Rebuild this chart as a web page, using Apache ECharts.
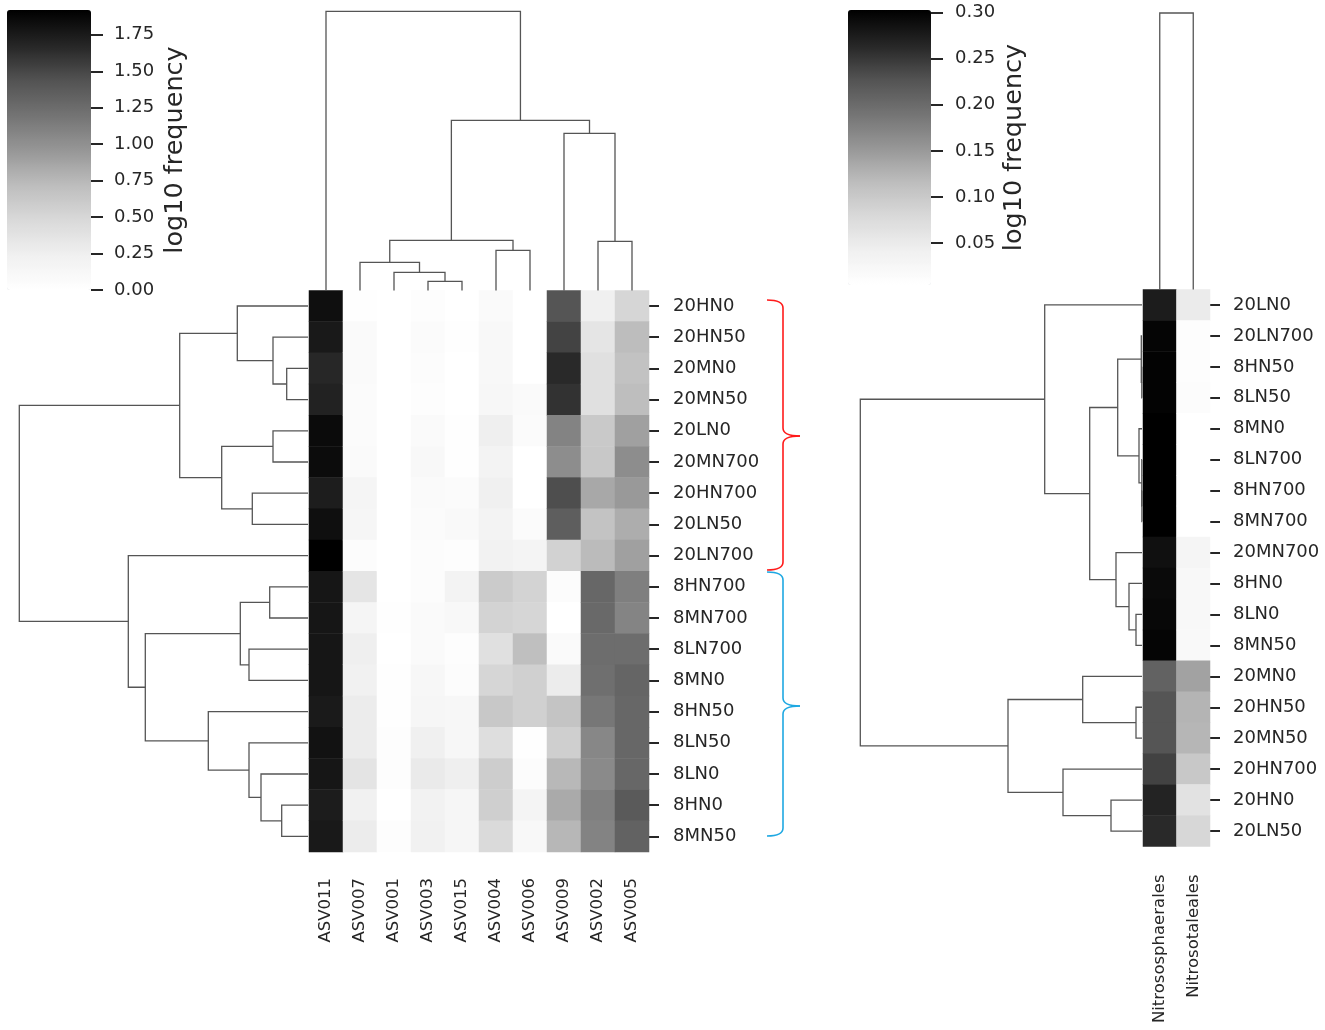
<!DOCTYPE html>
<html><head><meta charset="utf-8">
<script src="https://cdn.jsdelivr.net/npm/echarts@6/dist/echarts.min.js"></script>
<style>html,body{margin:0;padding:0;background:#fff}#c{width:1325px;height:1030px}</style>
</head><body><div id="c"></div>
<script>
// ---------- data ----------
const asvCols = ['ASV011','ASV007','ASV001','ASV003','ASV015','ASV004','ASV006','ASV009','ASV002','ASV005'];
const leftRows = ['20HN0','20HN50','20MN0','20MN50','20LN0','20MN700','20HN700','20LN50','20LN700',
                  '8HN700','8MN700','8LN700','8MN0','8HN50','8LN50','8LN0','8HN0','8MN50'];
const asv011 = [1.82,1.76,1.67,1.70,1.85,1.84,1.73,1.82,1.92,1.78,1.78,1.78,1.78,1.75,1.80,1.78,1.74,1.76];
const asv007 = [0.02,0.08,0.08,0.06,0.06,0.08,0.16,0.14,0.05,0.36,0.16,0.25,0.22,0.28,0.28,0.37,0.22,0.28];
const asv001 = [0,0,0,0,0,0,0,0,0,0,0.02,0,0.02,0.02,0.03,0.03,0,0.03];
const asv003 = [0.03,0.06,0.05,0.03,0.08,0.11,0.08,0.06,0.05,0.05,0.08,0.08,0.13,0.14,0.24,0.30,0.21,0.22];
const asv015 = [0,0.02,0,0,0.02,0.02,0.06,0.10,0.03,0.19,0.11,0.03,0.05,0.13,0.13,0.25,0.14,0.14];
const asv004 = [0.08,0.11,0.11,0.13,0.25,0.19,0.24,0.19,0.21,0.60,0.53,0.41,0.51,0.63,0.43,0.58,0.57,0.47];
const asv006 = [0,0,0,0.08,0.06,0,0,0.06,0.18,0.53,0.51,0.70,0.56,0.56,0.02,0.05,0.18,0.11];
const asv009 = [1.42,1.52,1.66,1.61,1.09,1.02,1.46,1.35,0.54,0.05,0,0.08,0.28,0.66,0.57,0.75,0.84,0.76];
const asv002 = [0.24,0.36,0.41,0.41,0.62,0.63,0.85,0.67,0.73,1.29,1.27,1.24,1.23,1.17,1.06,1.04,1.11,1.09];
const asv005 = [0.51,0.72,0.68,0.71,0.90,1.02,0.94,0.82,0.90,1.12,1.08,1.24,1.30,1.29,1.29,1.29,1.38,1.32];

const orderCols = ['Nitrososphaerales','Nitrosotaleales'];
const rightRows = ['20LN0','20LN700','8HN50','8LN50','8MN0','8LN700','8HN700','8MN700','20MN700',
                   '8HN0','8LN0','8MN50','20MN0','20HN50','20MN50','20HN700','20HN0','20LN50'];
const nitrososphaerales = [0.275,0.298,0.300,0.300,0.303,0.303,0.303,0.303,0.287,0.293,0.295,0.298,0.210,0.225,0.225,0.242,0.268,0.262];
const nitrosotaleales   = [0.050,0.009,0.009,0.012,0.0043,0.0043,0.0043,0.0043,0.029,0.022,0.022,0.019,0.142,0.125,0.123,0.102,0.064,0.082];

// linkage: [childA, childB, distance]; ids < n are leaves (display order), n+k is k-th merge
const leftColLinkage = [[3,4,9],[2,10,18],[1,11,28],[5,6,40],[12,13,50],[8,9,49],[7,15,157],[14,16,170],[0,17,279]];
const leftRowLinkage = [[2,3,21.3],[1,18,35],[0,19,70.7],[4,5,35],[6,7,55.7],[21,22,86.3],[20,23,128.3],
  [9,10,38.3],[11,12,59],[25,26,67.7],[16,17,26.3],[15,28,47],[14,29,59],[13,30,99.7],[27,31,162.7],[8,32,179.7],[24,33,288.7]];
const rightColLinkage = [[0,1,276.5]];
const rightRowLinkage = [[2,3,0.2],[1,18,0.7],[6,7,0.1],[5,20,0.2],[4,21,3],[19,22,24.3],
  [10,11,6],[9,24,13],[8,25,26],[23,26,52.3],[0,27,97.3],[13,14,6],[12,29,59.3],[16,17,31],[15,31,79],[30,32,134],[28,33,281.7]];

// colour bar ticks: [first, last, step]
const leftBarTicks = [0, 1.75, 0.25];
const rightBarTicks = [0.05, 0.30, 0.05];
const leftRange = [0, 1.92];
const rightRange = [0.0043, 0.303];
const barTitle = 'log10 frequency';

// ---------- build ----------
const greys = ['#ffffff','#f0f0f0','#d9d9d9','#bdbdbd','#969696','#737373','#525252','#252525','#000000'];
const TXT = '#262626', FONT = 'DejaVu Sans';
const leftCols = [asv011,asv007,asv001,asv003,asv015,asv004,asv006,asv009,asv002,asv005];
const leftData = [];
leftCols.forEach((col, c) => col.forEach((v, r) => leftData.push([c, r, v])));
const rightData = [];
[nitrososphaerales, nitrosotaleales].forEach((col, c) => col.forEach((v, r) => rightData.push([c, r, v])));

function dendro(n, linkage, horizontal) {
  const pos = [], hgt = [];
  for (let i = 0; i < n; i++) { pos.push(i + 0.5); hgt.push(0); }
  const segs = [];
  linkage.forEach(([a, b, h]) => {
    let pts = [[pos[a], hgt[a]], [pos[a], h], [pos[b], h], [pos[b], hgt[b]]];
    if (horizontal) pts = pts.map(p => [p[1], p[0]]);
    segs.push({ coords: pts });
    pos.push((pos[a] + pos[b]) / 2); hgt.push(h);
  });
  return segs;
}
const dLine = { color: '#555', width: 1.3, opacity: 1 };
function lineSeries(xi, data) {
  return { type: 'lines', coordinateSystem: 'cartesian2d', xAxisIndex: xi, yAxisIndex: xi, polyline: true,
           silent: true, data: data, lineStyle: dLine, z: 3 };
}
const hidden = (min, max, inverse) => ({ type: 'value', show: false, min, max, inverse: !!inverse,
  axisLine: { onZero: false } });
const dummyCat = () => ({ type: 'category', show: false, data: [''], axisLine: { onZero: false } });
const hLbl = { color: TXT, fontFamily: FONT, fontSize: 18 };
const vLbl = { color: TXT, fontFamily: FONT, fontSize: 16.5 };

function heatY(rows, margin) {
  return { type: 'category', data: rows, inverse: true, position: 'right',
    axisLine: { show: false, onZero: false }, axisTick: { show: true, alignWithLabel: true, length: 10, lineStyle: { color: TXT, width: 2 } },
    axisLabel: Object.assign({ margin: margin }, hLbl), splitLine: { show: false } };
}
function heatX(cols, margin) {
  return { type: 'category', data: cols, position: 'bottom',
    axisLine: { show: false, onZero: false }, axisTick: { show: false },
    axisLabel: Object.assign({ margin: margin, rotate: 90 }, vLbl), splitLine: { show: false } };
}
function tickAxis(t, margin) {
  return { type: 'value', position: 'right', min: t[0], max: t[1], interval: t[2],
    axisLine: { show: false, onZero: false }, splitLine: { show: false },
    axisTick: { show: true, inside: false, length: 12, lineStyle: { color: TXT, width: 2 } },
    axisLabel: Object.assign({ margin: margin, formatter: v => v.toFixed(2) }, hLbl), z: 10 };
}
function nameAxis(range, gap) {
  return { type: 'value', position: 'right', min: range[0], max: range[1],
    axisLine: { show: false, onZero: false }, splitLine: { show: false }, axisTick: { show: false }, axisLabel: { show: false },
    name: barTitle, nameLocation: 'middle', nameRotate: 90, nameGap: gap,
    nameTextStyle: { color: TXT, fontFamily: FONT, fontSize: 25.5 } };
}

const G = (left, top, width, height) => ({ left, top, width, height, containLabel: false });
// pixel span of a colour bar sub-range (tick axis sits over part of the bar)
function sub(barTop, barH, range, lo, hi) {
  const f = v => barTop + barH * (range[1] - v) / (range[1] - range[0]);
  return [f(hi), f(lo) - f(hi)];
}
const lSub = sub(10, 280, leftRange, leftBarTicks[0], leftBarTicks[1]);
const rSub = sub(10, 275, rightRange, rightBarTicks[0], rightBarTicks[1]);

// curly brace pieces (annotation)
function brace(x0, xm, xt, y0, yt, y1, color) {
  const st = { stroke: color, fill: null, lineWidth: 1.6 };
  const r = 8;
  return [
    { type: 'bezierCurve', shape: { x1: x0, y1: y0, cpx1: xm, cpy1: y0, x2: xm, y2: y0 + r }, style: st },
    { type: 'line', shape: { x1: xm, y1: y0 + r, x2: xm, y2: yt - r }, style: st },
    { type: 'bezierCurve', shape: { x1: xm, y1: yt - r, cpx1: xm, cpy1: yt, x2: xt, y2: yt }, style: st },
    { type: 'bezierCurve', shape: { x1: xt, y1: yt, cpx1: xm, cpy1: yt, x2: xm, y2: yt + r }, style: st },
    { type: 'line', shape: { x1: xm, y1: yt + r, x2: xm, y2: y1 - r }, style: st },
    { type: 'bezierCurve', shape: { x1: xm, y1: y1 - r, cpx1: xm, cpy1: y1, x2: x0, y2: y1 }, style: st }
  ];
}

const option = {
  backgroundColor: '#ffffff',
  animation: false,
  grid: [
    G(309, 290.4, 340, 561.6),   // 0 left heatmap
    G(309, 0, 340, 290.4),       // 1 left column dendrogram
    G(0, 290.4, 308, 561.6),     // 2 left row dendrogram
    G(7, lSub[0], 84, lSub[1]),  // 3 left colorbar ticks
    G(1143, 289.5, 67, 557),     // 4 right heatmap
    G(1143, 0, 67, 289.5),       // 5 right column dendrogram
    G(852, 289.5, 290, 557),     // 6 right row dendrogram
    G(848, rSub[0], 83, rSub[1]),// 7 right colorbar ticks
    G(7, 10, 84, 280),           // 8 left colorbar title
    G(848, 10, 83, 275)          // 9 right colorbar title
  ],
  xAxis: [
    Object.assign(heatX(asvCols, 26), { gridIndex: 0 }),
    Object.assign(hidden(0, asvCols.length), { gridIndex: 1 }),
    Object.assign(hidden(0, 308, true), { gridIndex: 2 }),
    Object.assign(dummyCat(), { gridIndex: 3 }),
    Object.assign(heatX(orderCols, 28), { gridIndex: 4 }),
    Object.assign(hidden(0, orderCols.length), { gridIndex: 5 }),
    Object.assign(hidden(0, 290, true), { gridIndex: 6 }),
    Object.assign(dummyCat(), { gridIndex: 7 }),
    Object.assign(dummyCat(), { gridIndex: 8 }),
    Object.assign(dummyCat(), { gridIndex: 9 })
  ],
  yAxis: [
    Object.assign(heatY(leftRows, 24), { gridIndex: 0 }),
    Object.assign(hidden(0, 290.4), { gridIndex: 1 }),
    Object.assign(hidden(0, leftRows.length, true), { gridIndex: 2 }),
    Object.assign(tickAxis(leftBarTicks, 23), { gridIndex: 3 }),
    Object.assign(heatY(rightRows, 23), { gridIndex: 4 }),
    Object.assign(hidden(0, 289.5), { gridIndex: 5 }),
    Object.assign(hidden(0, rightRows.length, true), { gridIndex: 6 }),
    Object.assign(tickAxis(rightBarTicks, 24), { gridIndex: 7 }),
    Object.assign(nameAxis(leftRange, 71), { gridIndex: 8 }),
    Object.assign(nameAxis(rightRange, 70), { gridIndex: 9 })
  ],
  visualMap: [
    { type: 'continuous', seriesIndex: 0, dimension: 2, min: leftRange[0], max: leftRange[1], calculable: false,
      hoverLink: false, orient: 'vertical', left: 7, top: 10, itemWidth: 84, itemHeight: 280, padding: 0,
      inRange: { color: greys } },
    { type: 'continuous', seriesIndex: 1, dimension: 2, min: rightRange[0], max: rightRange[1], calculable: false,
      hoverLink: false, orient: 'vertical', left: 848, top: 10, itemWidth: 83, itemHeight: 275, padding: 0,
      inRange: { color: greys } }
  ],
  series: [
    { type: 'heatmap', xAxisIndex: 0, yAxisIndex: 0, data: leftData, silent: true, itemStyle: { borderWidth: 0 } },
    { type: 'heatmap', xAxisIndex: 4, yAxisIndex: 4, data: rightData, silent: true, itemStyle: { borderWidth: 0 } },
    lineSeries(1, dendro(asvCols.length, leftColLinkage, false)),
    lineSeries(2, dendro(leftRows.length, leftRowLinkage, true)),
    lineSeries(5, dendro(orderCols.length, rightColLinkage, false)),
    lineSeries(6, dendro(rightRows.length, rightRowLinkage, true))
  ],
  graphic: [].concat(
    brace(767, 783, 800, 300, 436, 570, '#ff1a1a'),
    brace(767, 783, 800, 572, 706, 836, '#1ea8e2')
  )
};
const chart = echarts.init(document.getElementById('c'), null, { renderer: 'canvas' });
chart.setOption(option);
</script></body></html>
